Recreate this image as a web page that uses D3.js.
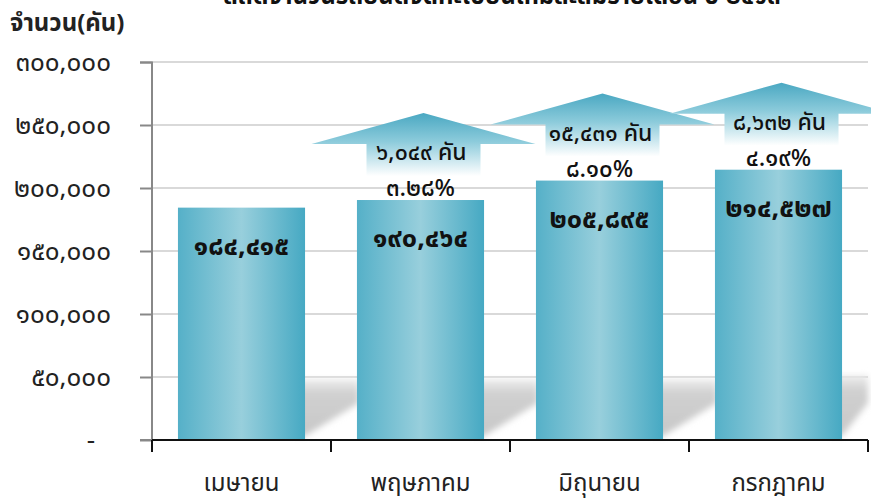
<!DOCTYPE html>
<html>
<head>
<meta charset="utf-8">
<script src="https://cdn.jsdelivr.net/npm/d3@7"></script>
<style>
  body { margin: 0; background: #fff; }
  svg { display: block; }
  text { font-family: "Noto Sans Thai", "Tahoma", "DejaVu Sans", sans-serif; }
</style>
</head>
<body>
<div id="chart"></div>
<script>
// data
var months = ["เมษายน", "พฤษภาคม", "มิถุนายน", "กรกฎาคม"];
var cars = [184415, 190464, 205895, 214527];
var diffCars = [null, 6049, 15431, 8632];
var diffPct = [null, 3.28, 8.10, 4.19];
var yTicks = [0, 50000, 100000, 150000, 200000, 250000, 300000];

var titleText = "สถิติจำนวนรถยนต์จดทะเบียนใหม่สะสมรายเดือน ปี ๒๕๖๓";
var yLabel = "จำนวน(คัน)";

// arabic -> thai digits
function toThai(s) {
  return String(s).replace(/[0-9]/g, function(c) { return "๐๑๒๓๔๕๖๗๘๙"[+c]; });
}
var fmt = d3.format(",");

var width = 871, height = 501;
var margin = { top: 62, right: 3, bottom: 61, left: 152 };
var chartW = width - margin.left - margin.right;
var chartH = height - margin.top - margin.bottom;

var svg = d3.select("#chart").append("svg")
  .attr("width", width)
  .attr("height", height);

var defs = svg.append("defs");

// bar gradient (cylinder look)
var barGrad = defs.append("linearGradient").attr("id", "barGrad")
  .attr("x1", "0%").attr("x2", "100%").attr("y1", "0%").attr("y2", "0%");
barGrad.append("stop").attr("offset", "0%").attr("stop-color", "#55b0c8");
barGrad.append("stop").attr("offset", "50%").attr("stop-color", "#98cfdc");
barGrad.append("stop").attr("offset", "100%").attr("stop-color", "#46a9c3");

// arrow gradient (teal to white)
var arrGrad = defs.append("linearGradient").attr("id", "arrGrad")
  .attr("x1", "0%").attr("x2", "0%").attr("y1", "0%").attr("y2", "100%");
arrGrad.append("stop").attr("offset", "0%").attr("stop-color", "#4aa8c2");
arrGrad.append("stop").attr("offset", "45%").attr("stop-color", "#8ccbdb");
arrGrad.append("stop").attr("offset", "100%").attr("stop-color", "#ffffff");

// shadow gradient
var shGrad = defs.append("linearGradient").attr("id", "shGrad")
  .attr("x1", "0%").attr("x2", "0%").attr("y1", "0%").attr("y2", "100%");
shGrad.append("stop").attr("offset", "0%").attr("stop-color", "#efefef");
shGrad.append("stop").attr("offset", "25%").attr("stop-color", "#d0d0d0");
shGrad.append("stop").attr("offset", "100%").attr("stop-color", "#c8c8c8");

defs.append("filter").attr("id", "blur")
  .attr("x", "-20%").attr("y", "-20%").attr("width", "140%").attr("height", "140%")
  .append("feGaussianBlur").attr("stdDeviation", 3);

var g = svg.append("g")
  .attr("transform", `translate(${margin.left}, ${margin.top})`);

// scales
var xScale = d3.scaleBand()
  .domain(months)
  .range([0, chartW])
  .padding(0);

var yScale = d3.scaleLinear()
  .domain([0, 300000])
  .range([chartH, 0]);

var barW = xScale.bandwidth() * 0.71;

// gridlines
g.append("g")
  .selectAll("line")
  .data(yTicks.slice(1))
  .enter()
  .append("line")
  .attr("x1", 0)
  .attr("x2", chartW)
  .attr("y1", d => yScale(d))
  .attr("y2", d => yScale(d))
  .attr("stroke", "#d9d9d9")
  .attr("stroke-width", 2);

// floor shadows behind bars
g.append("g")
  .attr("filter", "url(#blur)")
  .selectAll("path")
  .data(months)
  .enter()
  .append("path")
  .attr("d", function(d, i) {
    var r = xScale(d) + (xScale.bandwidth() + barW) / 2;
    var w = (i == months.length - 1) ? chartW - r : xScale.bandwidth() - barW + 2;
    var top = yScale(50000) + (i == months.length - 1 ? -2 : 2);
    return `M${r - 10},${top} L${r + w},${top} L${r + w},${yScale(50000) + 26} L${r},${chartH - 4} L${r - 10},${chartH - 4} Z`;
  })
  .attr("fill", "url(#shGrad)");

// bars
g.selectAll("rect.bar")
  .data(cars)
  .enter()
  .append("rect")
  .attr("class", "bar")
  .attr("x", (d, i) => xScale(months[i]) + (xScale.bandwidth() - barW) / 2)
  .attr("y", d => yScale(d))
  .attr("width", barW)
  .attr("height", d => chartH - yScale(d))
  .attr("fill", "url(#barGrad)");

// value labels in bars
g.selectAll("text.val")
  .data(cars)
  .enter()
  .append("text")
  .attr("class", "val")
  .attr("x", (d, i) => xScale(months[i]) + xScale.bandwidth() / 2)
  .attr("y", d => yScale(d) + 38)
  .attr("dy", "0.35em")
  .attr("text-anchor", "middle")
  .attr("font-size", 27)
  .attr("font-weight", "bold")
  .attr("fill", "#111")
  .text(d => toThai(fmt(d)));

// up arrows with increase labels
var arrows = g.selectAll("g.arrow")
  .data(cars.map((d, i) => ({ v: d, i: i })).filter(o => diffCars[o.i] != null))
  .enter()
  .append("g")
  .attr("class", "arrow")
  .attr("transform", o => `translate(${xScale(months[o.i]) + xScale.bandwidth() / 2 + 3}, ${yScale(o.v)})`);

arrows.append("path")
  .attr("d", "M0,-87 L112,-56 L57,-56 L57,-24 L-57,-24 L-57,-56 L-112,-56 Z")
  .attr("fill", "url(#arrGrad)");

arrows.append("text")
  .attr("x", -2)
  .attr("y", -48)
  .attr("dy", "0.35em")
  .attr("text-anchor", "middle")
  .attr("font-size", 23)
  .attr("font-weight", 500)
  .attr("fill", "#111")
  .text(o => toThai(fmt(diffCars[o.i])) + " คัน");

arrows.append("text")
  .attr("x", -3)
  .attr("y", -12)
  .attr("dy", "0.35em")
  .attr("text-anchor", "middle")
  .attr("font-size", 24)
  .attr("font-weight", 500)
  .attr("fill", "#111")
  .text(o => toThai(diffPct[o.i].toFixed(2)) + "%");

// y axis
var yAxis = d3.axisLeft(yScale)
  .tickValues(yTicks)
  .tickSize(12)
  .tickPadding(29)
  .tickFormat(d => d == 0 ? "-" : toThai(fmt(d)));

var yG = g.append("g").call(yAxis);
yG.select(".domain").attr("stroke", "#888").attr("stroke-width", 2)
  .attr("d", `M-12,0.5H0V${chartH}H-12`);
yG.selectAll(".tick line").attr("stroke", "#888").attr("stroke-width", 2);
yG.selectAll(".tick text")
  .attr("font-size", 26)
  .attr("fill", "#222")
  .style("font-family", "'Noto Sans Thai', Tahoma, 'DejaVu Sans', sans-serif");
yG.selectAll(".tick").filter(d => d == 0).select("text").attr("dx", -16);

// x axis
var xAxis = d3.axisBottom(xScale).tickSize(0).tickPadding(34);
var xG = g.append("g")
  .attr("transform", `translate(0, ${chartH})`)
  .call(xAxis);
xG.select(".domain").attr("stroke", "#111").attr("stroke-width", 2).attr("d", `M0,0H${chartW}`);
xG.selectAll(".tick text")
  .attr("font-size", 24)
  .attr("fill", "#222")
  .style("font-family", "'Noto Sans Thai', Tahoma, 'DejaVu Sans', sans-serif");

// category separators on the x axis
xG.selectAll("line.sep")
  .data(months.concat(["end"]))
  .enter()
  .append("line")
  .attr("class", "sep")
  .attr("x1", d => d == "end" ? chartW : xScale(d))
  .attr("x2", d => d == "end" ? chartW : xScale(d))
  .attr("y1", 0)
  .attr("y2", 12)
  .attr("stroke", "#111")
  .attr("stroke-width", 2);

// title (cut off at the top) and y label
svg.append("text")
  .attr("x", 502)
  .attr("y", 4)
  .attr("text-anchor", "middle")
  .attr("font-size", 24)
  .attr("font-weight", "bold")
  .attr("fill", "#111")
  .text(titleText);

svg.append("text")
  .attr("x", 10)
  .attr("y", 31)
  .attr("font-size", 24)
  .attr("font-weight", "bold")
  .attr("fill", "#222")
  .text(yLabel);
</script>
</body>
</html>
